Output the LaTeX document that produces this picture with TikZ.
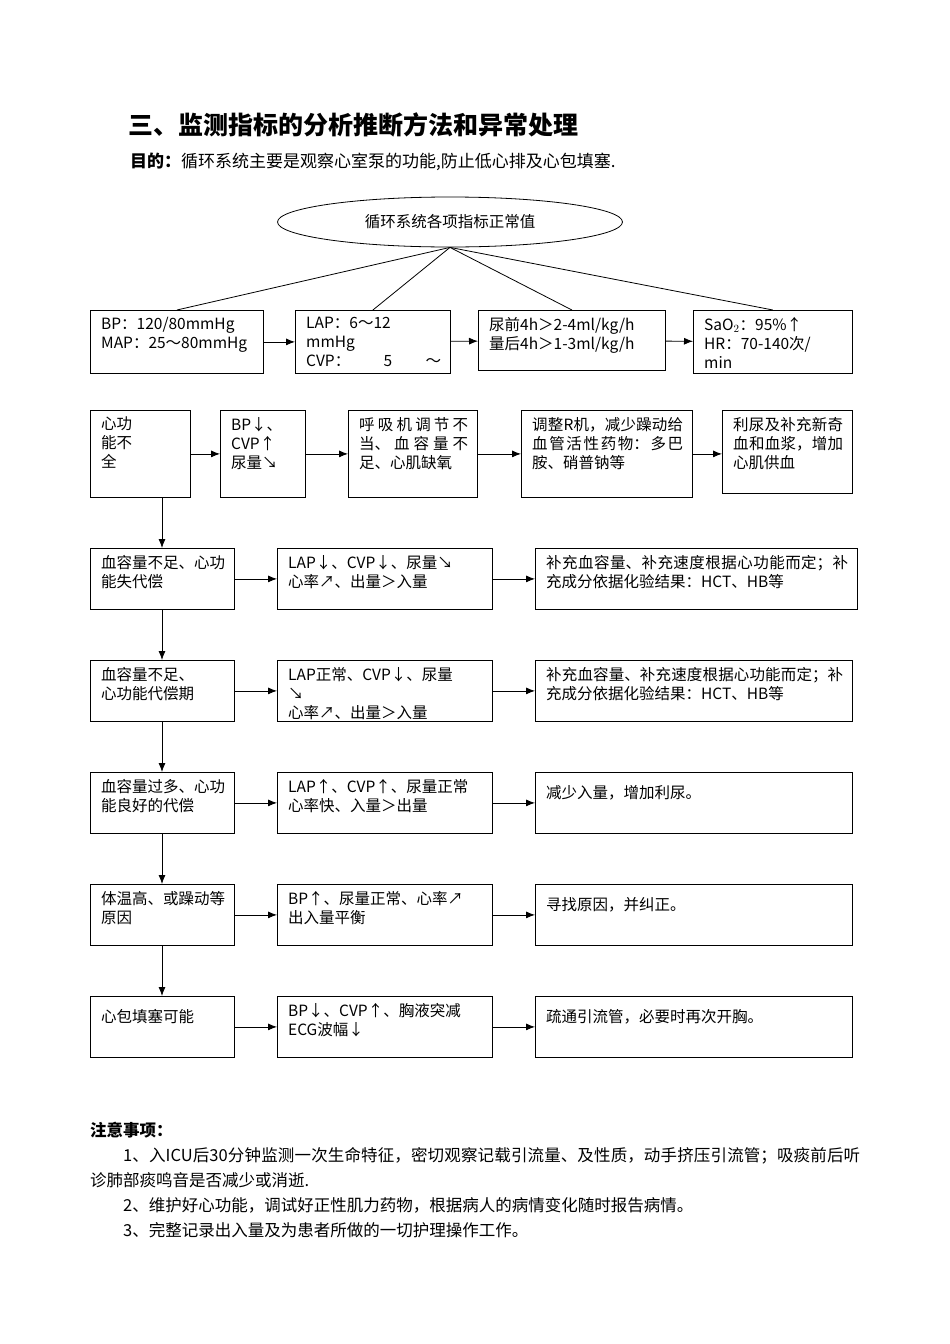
\documentclass[tikz,border=0pt]{standalone}
\usepackage{fontspec}
\setmainfont{Noto Sans CJK SC}
\XeTeXlinebreaklocale "zh"
\XeTeXlinebreakskip=0pt plus 1pt
\usetikzlibrary{shapes.geometric,arrows.meta}
\tikzset{conn/.style={-{Latex[length=9pt,width=7pt]},line width=0.8pt},
 ln/.style={line width=0.8pt}}
\newcommand{\bx}[6]{%
 \node[draw,line width=0.8pt,anchor=north west,minimum width=#4-#2,minimum height=#5-#3,inner sep=0pt] (#1) at (#2,#3) {};
 \begin{scope}\clip (#1.south west) rectangle (#1.north east);
 \node[anchor=north west,text width=#4-#2-20,inner sep=0pt,font=\fontsize{15.5}{19}\selectfont,align=justify] at ([shift={(11,7)}]#1.north west) {#6};
 \end{scope}}
\begin{document}
\begin{tikzpicture}[x=1pt,y=-1pt]
\useasboundingbox (0,0) rectangle (950,1344);
\node[anchor=west,font=\fontsize{25}{28}\selectfont\bfseries,inner sep=0] (title) at (128,125) {三、监测指标的分析推断方法和异常处理};
\node[anchor=west,font=\fontsize{17}{20}\selectfont,inner sep=0] (goal) at (130,162) {\textbf{目的：}循环系统主要是观察心室泵的功能,防止低心排及心包填塞.};
\node[draw,ellipse,line width=0.8pt,minimum width=345,minimum height=50,font=\fontsize{15.5}{18}\selectfont] (top) at (450,222) {循环系统各项指标正常值};
\bx{a1}{90}{310}{263}{373}{BP：120/80mmHg\\MAP：25～80mmHg}
\bx{a2}{295}{310}{450}{373}{LAP：6～12\\mmHg\\CVP：5～12cmH$_2$O}
\bx{a3}{478}{310}{665}{370}{尿前4h＞2-4ml/kg/h\\量后4h＞1-3ml/kg/h}
\bx{a4}{693}{310}{852}{373}{SaO$_2$：95\%↑\\HR：70-140次/\\min}
\draw[ln] (top.south) -- (a1.north);
\draw[ln] (top.south) -- (a2.north);
\draw[ln] (top.south) -- (a3.north);
\draw[ln] (top.south) -- (a4.north);
\draw[conn] (a1) -- (a2); \draw[conn] (a2) -- (a3); \draw[conn] (a3) -- (a4);
\bx{b1}{90}{410}{190}{497}{心功\\能不\\全}
\bx{b2}{220}{410}{305}{497}{BP↓、\\CVP↑\\尿量↘}
\bx{b3}{348}{410}{477}{497}{呼吸机调节不当、血容量不足、心肌缺氧}
\bx{b4}{521}{410}{692}{497}{调整R机，减少躁动给血管活性药物：多巴胺、硝普钠等}
\bx{b5}{722}{410}{852}{493}{利尿及补充新奇血和血浆，增加心肌供血}
\draw[conn] (b1) -- (b2); \draw[conn] (b2) -- (b3); \draw[conn] (b3) -- (b4); \draw[conn] (b4) -- (b5.west|-b4);
\bx{c1}{90}{548}{234}{609}{血容量不足、心功能失代偿}
\bx{c2}{277}{548}{492}{609}{LAP↓、CVP↓、尿量↘\\心率↗、出量＞入量}
\bx{c3}{535}{548}{857}{609}{补充血容量、补充速度根据心功能而定；补充成分依据化验结果：HCT、HB等}
\bx{d1}{90}{660}{234}{721}{血容量不足、\\心功能代偿期}
\bx{d2}{277}{660}{492}{721}{LAP正常、CVP↓、尿量\\↘\\心率↗、出量＞入量}
\bx{d3}{535}{660}{852}{721}{补充血容量、补充速度根据心功能而定；补充成分依据化验结果：HCT、HB等}
\bx{e1}{90}{772}{234}{833}{血容量过多、心功能良好的代偿}
\bx{e2}{277}{772}{492}{833}{LAP↑、CVP↑、尿量正常\\心率快、入量＞出量}
\bx{e3}{535}{772}{852}{833}{\mbox{}\\减少入量，增加利尿。}
\bx{f1}{90}{884}{234}{945}{体温高、或躁动等原因}
\bx{f2}{277}{884}{492}{945}{BP↑、尿量正常、心率↗\\出入量平衡}
\bx{f3}{535}{884}{852}{945}{\mbox{}\\寻找原因，并纠正。}
\bx{g1}{90}{996}{234}{1057}{\mbox{}\\心包填塞可能}
\bx{g2}{277}{996}{492}{1057}{BP↓、CVP↑、胸液突减\\ECG波幅↓}
\bx{g3}{535}{996}{852}{1057}{\mbox{}\\疏通引流管，必要时再次开胸。}
\foreach \r in {c,d,e,f,g}{\draw[conn] (\r1) -- (\r2); \draw[conn] (\r2) -- (\r3.west|-\r2);}
\draw[conn] (b1.south-|162,0) -- (c1.north-|162,0);
\draw[conn] (c1.south-|162,0) -- (d1.north-|162,0);
\draw[conn] (d1.south-|162,0) -- (e1.north-|162,0);
\draw[conn] (e1.south-|162,0) -- (f1.north-|162,0);
\draw[conn] (f1.south-|162,0) -- (g1.north-|162,0);
\node[anchor=north west,text width=770,inner sep=0,align=justify,font=\fontsize{16.5}{25}\selectfont] (notes) at (90,1122) {\textbf{注意事项：}\\
\hspace*{2em}1、入ICU后30分钟监测一次生命特征，密切观察记载引流量、及性质，动手挤压引流管；吸痰前后听诊肺部痰鸣音是否减少或消逝.\\
\hspace*{2em}2、维护好心功能，调试好正性肌力药物，根据病人的病情变化随时报告病情。\\
\hspace*{2em}3、完整记录出入量及为患者所做的一切护理操作工作。};
\end{tikzpicture}
\end{document}
